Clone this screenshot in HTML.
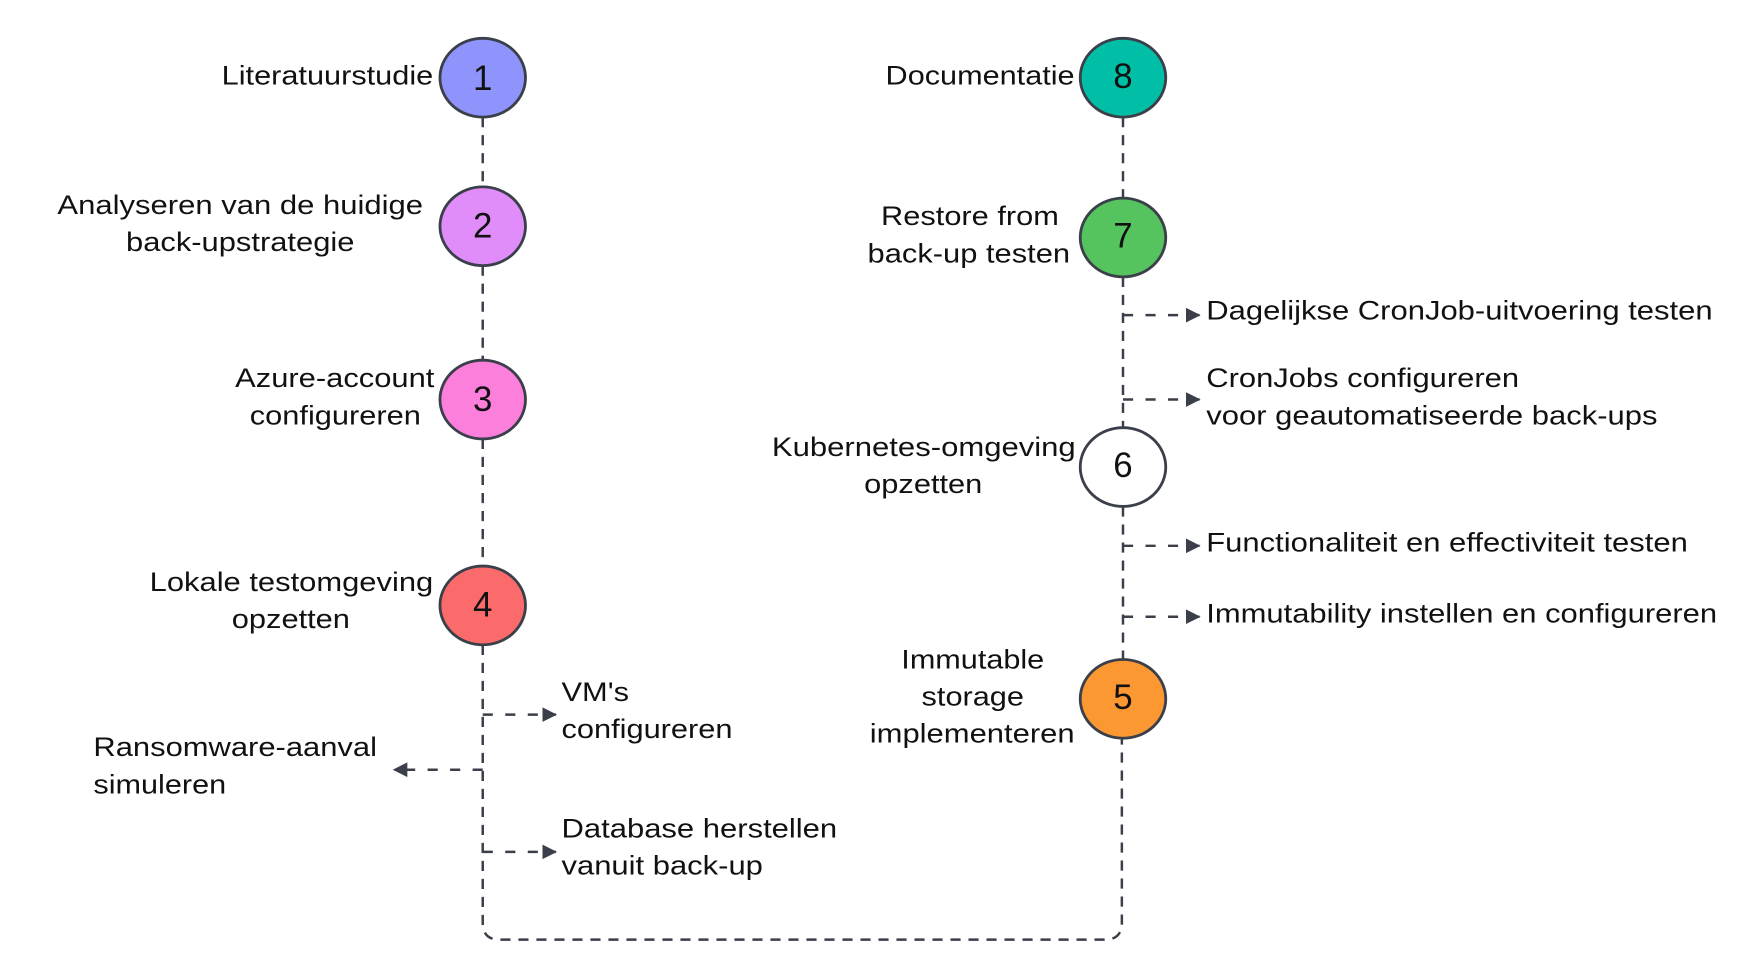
<!DOCTYPE html>
<html><head><meta charset="utf-8"><style>
html,body{margin:0;padding:0;background:#fff;width:1761px;height:978px;overflow:hidden}
text{font-family:"Liberation Sans",sans-serif;fill:#111;font-size:24px}
.n{font-size:31px;text-anchor:middle}
</style></head><body>
<svg width="1761" height="978" viewBox="0 0 1565 869" xmlns="http://www.w3.org/2000/svg">
<defs><marker id="a" markerWidth="14" markerHeight="14" refX="12" refY="6.5" orient="auto" markerUnits="userSpaceOnUse"><path d="M0,0 L13,6.5 L0,13 z" fill="#3a3f4a"/></marker></defs>
<g stroke="#3a3f4a" stroke-width="2.2" fill="none" stroke-dasharray="9,7">
<path d="M429 104 V166 M429 236 V320 M429 390 V503"/>
<path d="M429 573 V820 Q429 835 444 835 H982 Q997 835 997 820 V657"/>
<path d="M998 104 V176 M998 246 V380 M998 450 V587"/>
</g>
<g stroke="#3a3f4a" stroke-width="2.2" fill="none" stroke-dasharray="9,11">
<path d="M998 280 H1066" marker-end="url(#a)"/>
<path d="M998 355 H1066" marker-end="url(#a)"/>
<path d="M998 485 H1066" marker-end="url(#a)"/>
<path d="M998 548 H1066" marker-end="url(#a)"/>
<path d="M429 635 H494" marker-end="url(#a)"/>
<path d="M429 757 H494" marker-end="url(#a)"/>
<path d="M429 684 H350" marker-end="url(#a)"/>
</g>
<g stroke="#3a3f4a" stroke-width="2.5">
<ellipse cx="429" cy="69" rx="38" ry="35" fill="#8f94fd"/>
<ellipse cx="429" cy="201" rx="38" ry="35" fill="#e08cf9"/>
<ellipse cx="429" cy="355" rx="38" ry="35" fill="#fb7fdb"/>
<ellipse cx="429" cy="538" rx="38" ry="35" fill="#fb6b6b"/>
<ellipse cx="998" cy="69" rx="38" ry="35" fill="#00bfa6"/>
<ellipse cx="998" cy="211" rx="38" ry="35" fill="#56c45e"/>
<ellipse cx="998" cy="415" rx="38" ry="35" fill="#fff"/>
<ellipse cx="998" cy="621" rx="38" ry="35" fill="#fb9832"/>
</g>
<text class="n" x="429" y="80">1</text>
<text class="n" x="429" y="211">2</text>
<text class="n" x="429" y="365">3</text>
<text class="n" x="429" y="548">4</text>
<text class="n" x="998" y="78">8</text>
<text class="n" x="998" y="220">7</text>
<text class="n" x="998" y="424">6</text>
<text class="n" x="998" y="630">5</text>
<text x="197" y="75" textLength="188" lengthAdjust="spacingAndGlyphs">Literatuurstudie</text>
<text x="51" y="190" textLength="325" lengthAdjust="spacingAndGlyphs">Analyseren van de huidige</text>
<text x="112" y="223" textLength="203" lengthAdjust="spacingAndGlyphs">back-upstrategie</text>
<text x="209" y="344" textLength="177" lengthAdjust="spacingAndGlyphs">Azure-account</text>
<text x="222" y="377" textLength="152" lengthAdjust="spacingAndGlyphs">configureren</text>
<text x="133" y="525" textLength="252" lengthAdjust="spacingAndGlyphs">Lokale testomgeving</text>
<text x="206" y="558" textLength="105" lengthAdjust="spacingAndGlyphs">opzetten</text>
<text x="499" y="623" textLength="60" lengthAdjust="spacingAndGlyphs">VM's</text>
<text x="499" y="656" textLength="152" lengthAdjust="spacingAndGlyphs">configureren</text>
<text x="83" y="672" textLength="252" lengthAdjust="spacingAndGlyphs">Ransomware-aanval</text>
<text x="83" y="705" textLength="118" lengthAdjust="spacingAndGlyphs">simuleren</text>
<text x="499" y="744" textLength="245" lengthAdjust="spacingAndGlyphs">Database herstellen</text>
<text x="499" y="777" textLength="179" lengthAdjust="spacingAndGlyphs">vanuit back-up</text>
<text x="787" y="75" textLength="168" lengthAdjust="spacingAndGlyphs">Documentatie</text>
<text x="783" y="200" textLength="158" lengthAdjust="spacingAndGlyphs">Restore from</text>
<text x="771" y="233" textLength="180" lengthAdjust="spacingAndGlyphs">back-up testen</text>
<text x="1072" y="284" textLength="450" lengthAdjust="spacingAndGlyphs">Dagelijkse CronJob-uitvoering testen</text>
<text x="1072" y="344" textLength="278" lengthAdjust="spacingAndGlyphs">CronJobs configureren</text>
<text x="1072" y="377" textLength="401" lengthAdjust="spacingAndGlyphs">voor geautomatiseerde back-ups</text>
<text x="686" y="405" textLength="270" lengthAdjust="spacingAndGlyphs">Kubernetes-omgeving</text>
<text x="768" y="438" textLength="105" lengthAdjust="spacingAndGlyphs">opzetten</text>
<text x="1072" y="490" textLength="428" lengthAdjust="spacingAndGlyphs">Functionaliteit en effectiviteit testen</text>
<text x="1072" y="553" textLength="454" lengthAdjust="spacingAndGlyphs">Immutability instellen en configureren</text>
<text x="801" y="594" textLength="127" lengthAdjust="spacingAndGlyphs">Immutable</text>
<text x="819" y="627" textLength="91" lengthAdjust="spacingAndGlyphs">storage</text>
<text x="773" y="660" textLength="182" lengthAdjust="spacingAndGlyphs">implementeren</text>
</svg>
</body></html>
